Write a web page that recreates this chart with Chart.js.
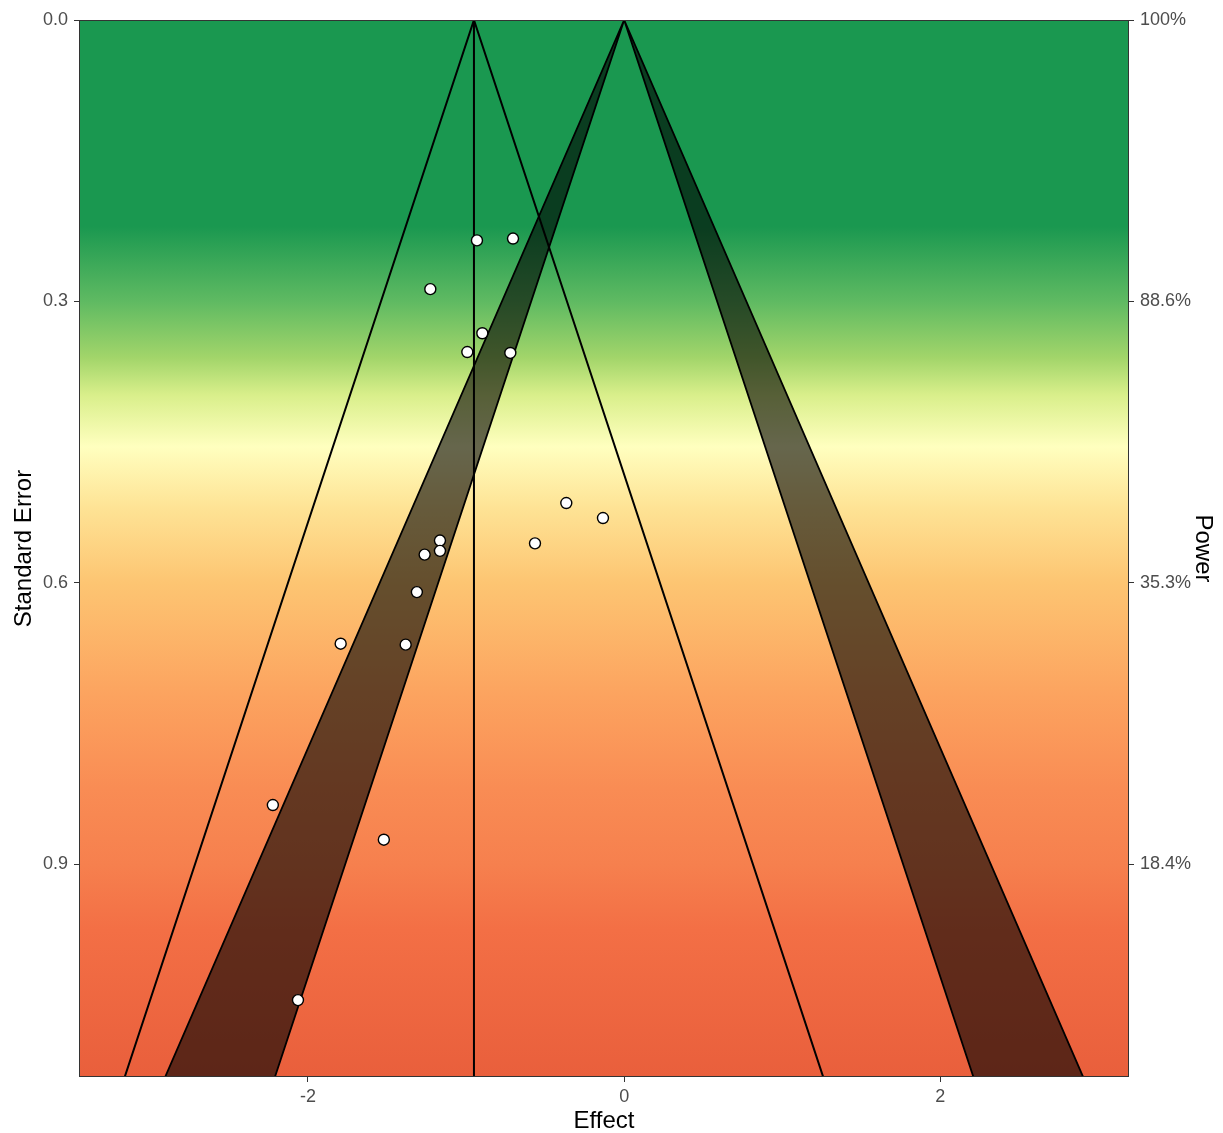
<!DOCTYPE html>
<html>
<head>
<meta charset="utf-8">
<title>Funnel plot</title>
<script src="https://cdn.jsdelivr.net/npm/chart.js@4.4.1/dist/chart.umd.min.js"></script>
<style>
  html, body { margin: 0; padding: 0; background: #ffffff; }
</style>
</head>
<body>
<canvas id="funnel" width="1223" height="1133"></canvas>
<script>
// Study estimates
const studyEffects = [-0.931, -0.703, -1.226, -0.897, -0.992, -0.720, -0.366, -0.134, -0.564,
                      -1.165, -1.165, -1.262, -1.311, -1.793, -1.382, -2.222, -1.520, -2.063];
const studySE = [0.235, 0.233, 0.287, 0.334, 0.354, 0.355, 0.515, 0.531, 0.558,
                 0.555, 0.566, 0.570, 0.610, 0.665, 0.666, 0.837, 0.874, 1.045];

const summaryEffect = -0.95;
const contourZ = [1.96, 2.576];   // p = .05 and p = .01 around zero

// Axes
const effectRange = [-3.448, 3.193];
const effectTicks = [-2, 0, 2];
const seMax = 1.127;
const seTicks = [0, 0.3, 0.6, 0.9];
const powerLabels = ['100%', '88.6%', '35.3%', '18.4%'];

// Background colour along the SE axis (power scale)
const bgStopsSE = [0, 0.22, 0.30, 0.36, 0.40, 0.455, 0.52, 0.60, 0.72, 0.82, 0.90, 0.97, 1.127];
const bgStopsColor = ['#1a9850', '#1a9850', '#5fba62', '#a2d56a', '#d9ef8b', '#ffffbf', '#fee395',
                      '#fdc572', '#fca35f', '#f98c54', '#f6804e', '#f36f45', '#e95f3c'];

// Lines run past the bottom edge and get clipped there
const seEnd = seMax * 1.1;

function bandPoints(sign) {
    return [
        { x: 0, y: 0 },
        { x: sign * contourZ[0] * seEnd, y: seEnd },
        { x: sign * contourZ[1] * seEnd, y: seEnd },
        { x: 0, y: 0 }
    ];
}

const backgroundPlugin = {
    id: 'powerBackground',
    beforeDraw(chart) {
        const { ctx, chartArea } = chart;
        const yScale = chart.scales.y;
        const top = yScale.getPixelForValue(0);
        const bottom = yScale.getPixelForValue(seMax);
        const grad = ctx.createLinearGradient(0, top, 0, bottom);
        bgStopsSE.forEach((se, i) => {
            grad.addColorStop(Math.min(1, se / seMax), bgStopsColor[i]);
        });
        ctx.save();
        ctx.fillStyle = grad;
        ctx.fillRect(chartArea.left, chartArea.top, chartArea.right - chartArea.left, chartArea.bottom - chartArea.top);
        ctx.restore();
    },
    afterDatasetsDraw(chart) {
        // panel border
        const { ctx, chartArea } = chart;
        ctx.save();
        ctx.strokeStyle = '#333333';
        ctx.lineWidth = 1;
        ctx.strokeRect(chartArea.left + 0.5, chartArea.top + 0.5,
            chartArea.right - chartArea.left - 1, chartArea.bottom - chartArea.top - 1);
        ctx.restore();
    }
};

const lineStyle = {
    type: 'line',
    showLine: true,
    borderColor: '#000000',
    borderWidth: 2,
    pointRadius: 0,
    tension: 0,
    clip: 0
};

const tickFont = { family: "'Liberation Sans', Arial, sans-serif", size: 18 };
const titleFont = { family: "'Liberation Sans', Arial, sans-serif", size: 24, lineHeight: 1 };

function axisGrid() {
    return { display: true, drawOnChartArea: false, drawTicks: true, tickLength: 5, color: '#333333', lineWidth: 1 };
}

const ctx = document.getElementById('funnel').getContext('2d');

new Chart(ctx, {
    type: 'scatter',
    data: {
        datasets: [
            {
                label: 'Studies',
                data: studyEffects.map((e, i) => ({ x: e, y: studySE[i] })),
                pointRadius: 5.5,
                pointBackgroundColor: '#ffffff',
                pointBorderColor: '#000000',
                pointBorderWidth: 1.4,
                order: 0
            },
            Object.assign({}, lineStyle, {
                label: 'Pseudo CI',
                data: [
                    { x: summaryEffect - contourZ[0] * seEnd, y: seEnd },
                    { x: summaryEffect, y: 0 },
                    { x: summaryEffect + contourZ[0] * seEnd, y: seEnd }
                ],
                order: 1
            }),
            Object.assign({}, lineStyle, {
                label: 'Summary',
                data: [{ x: summaryEffect, y: 0 }, { x: summaryEffect, y: seEnd }],
                order: 1
            }),
            Object.assign({}, lineStyle, {
                label: 'Contour left',
                data: bandPoints(-1),
                fill: 'shape',
                backgroundColor: 'rgba(0, 0, 0, 0.6)',
                borderWidth: 1.8,
                order: 2
            }),
            Object.assign({}, lineStyle, {
                label: 'Contour right',
                data: bandPoints(1),
                fill: 'shape',
                backgroundColor: 'rgba(0, 0, 0, 0.6)',
                borderWidth: 1.8,
                order: 2
            })
        ]
    },
    options: {
        responsive: false,
        animation: false,
        layout: { padding: { top: 20, left: 0, right: 0, bottom: 0 } },
        plugins: {
            legend: { display: false },
            tooltip: { enabled: false }
        },
        scales: {
            x: {
                type: 'linear',
                min: effectRange[0],
                max: effectRange[1],
                afterBuildTicks: axis => { axis.ticks = effectTicks.map(v => ({ value: v })); },
                afterFit: axis => { axis.height = 56; },
                grid: axisGrid(),
                border: { display: false },
                ticks: { font: tickFont, color: '#4d4d4d', padding: 4, callback: v => String(v) },
                title: { display: true, text: 'Effect', font: titleFont, color: '#000000', padding: { top: 0, bottom: 0 } }
            },
            y: {
                type: 'linear',
                position: 'left',
                reverse: true,
                min: 0,
                max: seMax,
                afterBuildTicks: axis => { axis.ticks = seTicks.map(v => ({ value: v })); },
                afterFit: axis => { axis.width = 79; },
                grid: axisGrid(),
                border: { display: false },
                ticks: { font: tickFont, color: '#4d4d4d', padding: 6, callback: v => v.toFixed(1) },
                title: { display: true, text: 'Standard Error', font: titleFont, color: '#000000', padding: { top: 12, bottom: 0 } }
            },
            y2: {
                type: 'linear',
                position: 'right',
                reverse: true,
                min: 0,
                max: seMax,
                afterBuildTicks: axis => { axis.ticks = seTicks.map(v => ({ value: v })); },
                afterFit: axis => { axis.width = 94; },
                grid: axisGrid(),
                border: { display: false },
                ticks: { font: tickFont, color: '#4d4d4d', padding: 6, callback: (v, i) => powerLabels[i] },
                title: { display: true, text: 'Power', font: titleFont, color: '#000000', padding: { top: 8, bottom: 0 } }
            }
        }
    },
    plugins: [backgroundPlugin]
});
</script>
</body>
</html>
